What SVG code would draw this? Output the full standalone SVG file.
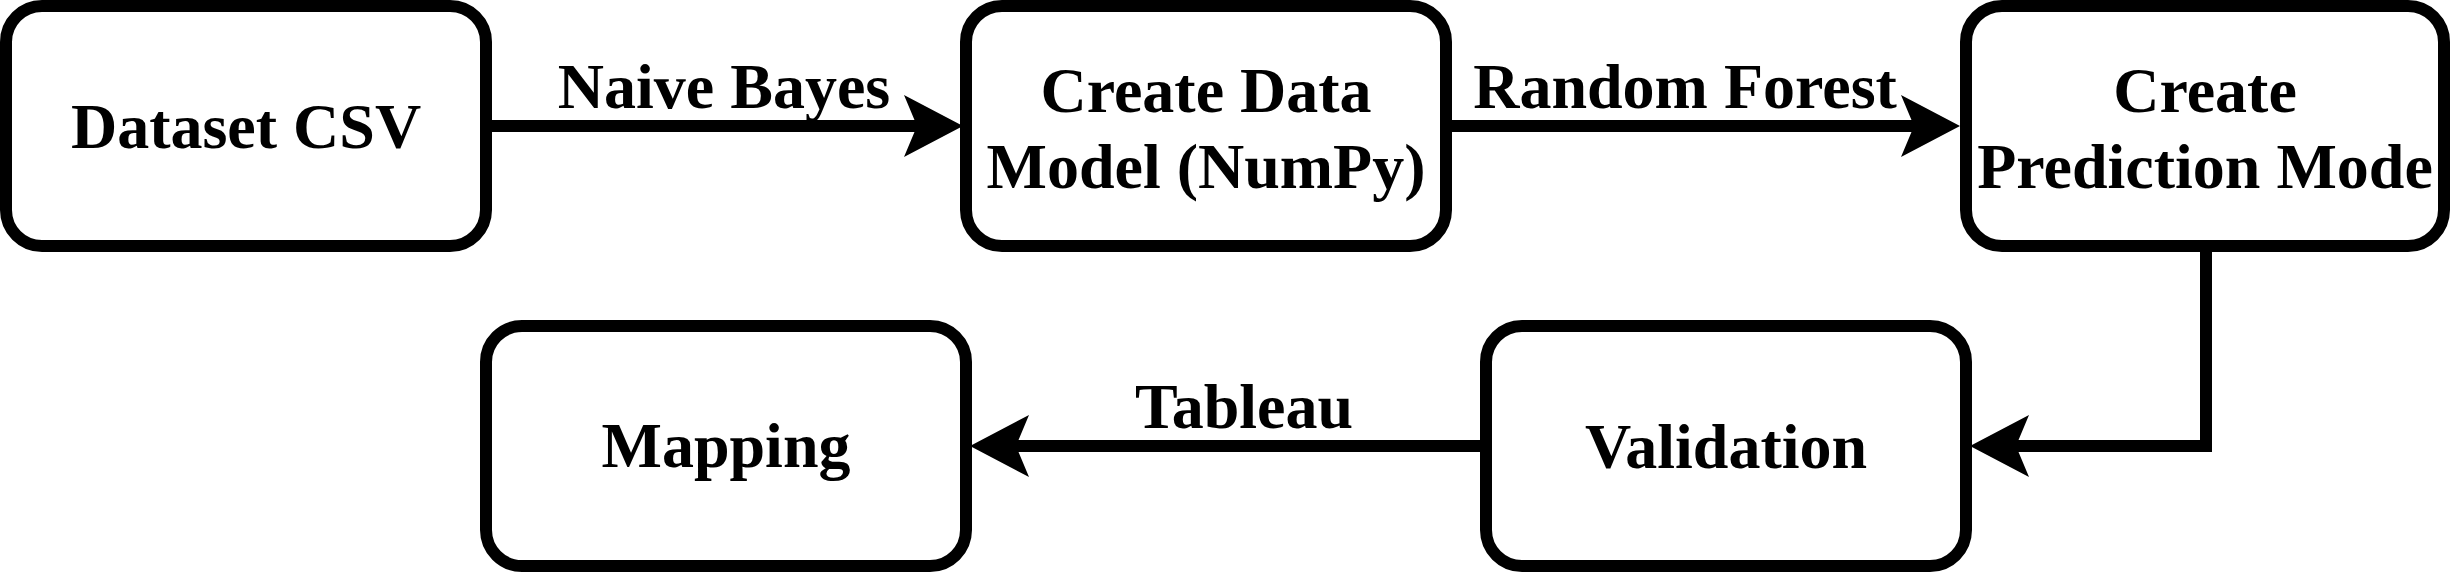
<svg xmlns="http://www.w3.org/2000/svg" width="2452" height="576" viewBox="0 0 2452 576">
<style>
.box{fill:#fff;stroke:#000;stroke-width:12}
.t{font-family:"Liberation Serif","Times New Roman",serif;font-weight:bold;font-size:64px;fill:#000;text-anchor:middle}
.edge{fill:none;stroke:#000;stroke-width:12;marker-end:url(#ah)}
</style>
<defs>
<marker id="ah" markerUnits="userSpaceOnUse" markerWidth="60" markerHeight="62" viewBox="0 0 60 62" refX="13" refY="31" orient="auto">
<path d="M0,0 L59,31 L0,62 L13,31 Z" fill="#000"/>
</marker>
</defs>
<rect width="2452" height="576" fill="#fff"/>
<g id="connectors">
<path class="edge" d="M486,126 H917"/>
<text class="t" x="724" y="108">Naive Bayes</text>
<path class="edge" d="M1446,126 H1914"/>
<text class="t" x="1685" y="108">Random Forest</text>
<path class="edge" d="M2206,246 V446 H2016"/>
<path class="edge" d="M1486,446 H1016"/>
<text class="t" x="1244" y="428">Tableau</text>
</g>
<g id="n-dataset">
<rect class="box" x="6" y="6" width="480" height="240" rx="36" ry="36"/>
<text class="t" x="246" y="148">Dataset CSV</text>
</g>
<g id="n-datamodel">
<rect class="box" x="966" y="6" width="480" height="240" rx="36" ry="36"/>
<text class="t" x="1206" y="112">Create Data</text>
<text class="t" x="1206" y="188">Model (NumPy)</text>
</g>
<g id="n-prediction">
<rect class="box" x="1966" y="6" width="478" height="240" rx="36" ry="36"/>
<text class="t" x="2205" y="112">Create</text>
<text class="t" x="2205" y="188">Prediction Mode</text>
</g>
<g id="n-validation">
<rect class="box" x="1486" y="326" width="480" height="240" rx="36" ry="36"/>
<text class="t" x="1726" y="468">Validation</text>
</g>
<g id="n-mapping">
<rect class="box" x="486" y="326" width="480" height="240" rx="36" ry="36"/>
<text class="t" x="726" y="467">Mapping</text>
</g>
</svg>
